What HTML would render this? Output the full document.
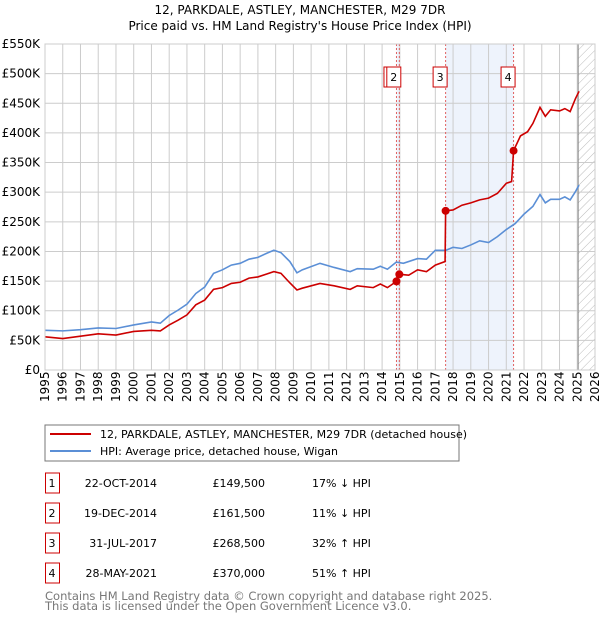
<!DOCTYPE html>
<html><head><meta charset="utf-8"><style>
body{margin:0;background:#fff;font-family:"DejaVu Sans","Liberation Sans",sans-serif;}
svg text{font-family:"DejaVu Sans","Liberation Sans",sans-serif;}
</style></head><body>
<svg id="chart" width="600" height="620" xmlns="http://www.w3.org/2000/svg">
<text x="300" y="14" text-anchor="middle" font-size="12">12, PARKDALE, ASTLEY, MANCHESTER, M29 7DR</text>
<text x="300" y="30" text-anchor="middle" font-size="12">Price paid vs. HM Land Registry's House Price Index (HPI)</text>
<defs><pattern id="hatch" width="6" height="6" patternUnits="userSpaceOnUse" patternTransform="rotate(45)"><line x1="0" y1="0" x2="0" y2="6" stroke="#bbb" stroke-width="1"/></pattern></defs>
<g id="plot"></g>
<rect x="45" y="425" width="414" height="36" fill="#fff" stroke="#777"/>
<line x1="50" y1="434" x2="91" y2="434" stroke="#cc0000" stroke-width="2"/>
<text x="100" y="438" font-size="11">12, PARKDALE, ASTLEY, MANCHESTER, M29 7DR (detached house)</text>
<line x1="50" y1="451" x2="91" y2="451" stroke="#5b8fd6" stroke-width="2"/>
<text x="100" y="455" font-size="11">HPI: Average price, detached house, Wigan</text>
<g id="table"></g>
<text x="45" y="600" font-size="11.5" fill="#777">Contains HM Land Registry data © Crown copyright and database right 2025.</text>
<text x="45" y="610" font-size="11.5" fill="#777">This data is licensed under the Open Government Licence v3.0.</text>
</svg>
<script>
const hpiYears=[1995,1996,1997,1998,1999,2000,2001,2001.5,2002,2002.5,2003,2003.5,2004,2004.5,2005,2005.5,2006,2006.5,2007,2007.5,2007.9,2008.3,2008.8,2009.2,2009.5,2010.5,2011.3,2012.2,2012.6,2013.5,2013.9,2014.3,2014.8,2015.2,2016,2016.5,2017,2017.6,2018,2018.5,2019,2019.5,2020,2020.5,2021,2021.5,2022,2022.5,2022.9,2023.2,2023.5,2024,2024.3,2024.6,2024.9,2025.1];
const hpiValues=[67,66,68,71,70,76,81,79,92,101,111,129,140,163,169,177,180,187,190,197,202,198,183,164,169,180,173,166,171,170,175,170,182,180,188,187,202,202,207,205,211,218,215,225,237,247,263,276,296,282,288,288,292,287,301,312];
const priceYears=[1995,1996,1997,1998,1999,2000,2001,2001.5,2002,2002.5,2003,2003.5,2004,2004.5,2005,2005.5,2006,2006.5,2007,2007.5,2007.9,2008.3,2008.8,2009.2,2009.5,2010.5,2011.3,2012.2,2012.6,2013.5,2013.9,2014.3,2014.81,2014.97,2015.5,2016,2016.5,2017,2017.55,2017.58,2018,2018.5,2019,2019.5,2020,2020.5,2021,2021.3,2021.41,2021.8,2022.2,2022.5,2022.9,2023.2,2023.5,2024,2024.3,2024.6,2024.9,2025.1];
const priceValues=[56,53,57,61,59,65,67,66,76,84,93,110,118,136,139,146,148,155,157,162,166,163,147,135,138,146,142,136,142,139,145,139,149.5,161.5,160,169,166,177,183,268.5,270,278,282,287,290,298,315,318,370,395,402,416,443,428,439,437,441,436,458,470];
const saleLabels=["1","2","3","4"];
const saleYears=[2014.81,2014.97,2017.58,2021.41];
const salePrices=[149.5,161.5,268.5,370];
const saleDates=["22-OCT-2014","19-DEC-2014","31-JUL-2017","28-MAY-2021"];
const salePriceText=["£149,500","£161,500","£268,500","£370,000"];
const saleHpiText=["17% ↓ HPI","11% ↓ HPI","32% ↑ HPI","51% ↑ HPI"];
const yTicks=[0,50,100,150,200,250,300,350,400,450,500,550];
const yTickLabels=["£0","£50K","£100K","£150K","£200K","£250K","£300K","£350K","£400K","£450K","£500K","£550K"];
const xTicks=[1995,1996,1997,1998,1999,2000,2001,2002,2003,2004,2005,2006,2007,2008,2009,2010,2011,2012,2013,2014,2015,2016,2017,2018,2019,2020,2021,2022,2023,2024,2025,2026];

const NS="http://www.w3.org/2000/svg";
const X0=45,X1=595,Y0=370,Y1=44;
const xS=y=>X0+(y-1995)/(2026-1995)*(X1-X0);
const yS=v=>Y0-v/550*(Y0-Y1);
const plot=document.getElementById('plot');
function mk(tag,attrs,parent){const e=document.createElementNS(NS,tag);for(const k in attrs)e.setAttribute(k,attrs[k]);(parent||plot).appendChild(e);return e;}

let r=mk('rect',{x:xS(saleYears[0]),y:Y1,width:xS(saleYears[1])-xS(saleYears[0]),height:Y0-Y1,fill:'#eef3fc'});


r=mk('rect',{x:xS(saleYears[2]),y:Y1,width:xS(saleYears[3])-xS(saleYears[2]),height:Y0-Y1,fill:'#eef3fc'});


r=mk('rect',{x:xS(2025.05),y:Y1,width:X1-xS(2025.05),height:Y0-Y1,fill:'url(#hatch)'});



yTicks.forEach((v,i)=>{
  const l=mk('line',{x1:X0,x2:X1,y1:yS(v),y2:yS(v),stroke:'#ccc','stroke-width':1});
  
  
  const t=mk('text',{x:X0-5,y:yS(v)+4,'text-anchor':'end','font-size':12});
  t.textContent=yTickLabels[i];
  
  
});
xTicks.forEach(yr=>{
  const l=mk('line',{x1:xS(yr),x2:xS(yr),y1:Y1,y2:Y0,stroke:'#ccc','stroke-width':1});
  
  
  const t=mk('text',{transform:`translate(${xS(yr)+4},${Y0+32}) rotate(-90)`,'font-size':12});
  t.textContent=String(yr);
  
  
});
const vl=mk('line',{x1:xS(2025.05),x2:xS(2025.05),y1:Y1,y2:Y0,stroke:'#888','stroke-width':1});



saleYears.forEach(yr=>{
  const l=mk('line',{x1:xS(yr),x2:xS(yr),y1:Y1,y2:Y0,stroke:'#e06060','stroke-width':1,'stroke-dasharray':'2,2'});
  
  
});

const hp=mk('polyline',{points:hpiYears.map((y,i)=>xS(y)+','+yS(hpiValues[i])).join(' '),fill:'none',stroke:'#5b8fd6','stroke-width':1.6});


const pp=mk('polyline',{points:priceYears.map((y,i)=>xS(y)+','+yS(priceValues[i])).join(' '),fill:'none',stroke:'#cc0000','stroke-width':1.6});



saleYears.forEach((yr,i)=>{
  const c=mk('circle',{cx:xS(yr),cy:yS(salePrices[i]),r:4,fill:'#cc0000'});
  
  
});
saleYears.forEach((yr,i)=>{
  const bx=xS(yr)-12.5;
  const b=mk('rect',{x:bx,y:67,width:14,height:20,fill:'#fff',stroke:'#cc0000','stroke-width':1});
  
  
  const t=mk('text',{x:bx+7,y:81,'text-anchor':'middle','font-size':11});
  t.textContent=saleLabels[i];
  
  
});
const border=mk('rect',{x:X0,y:Y1,width:X1-X0,height:Y0-Y1,fill:'none',stroke:'#ccc'});



const tb=document.getElementById('table');
saleLabels.forEach((lab,i)=>{
  const cy=483+i*30;
  const b=mk('rect',{x:45.5,y:cy-10,width:14,height:20,fill:'#fff',stroke:'#cc0000'},tb);
  
  
  const cells=[[52,'middle',lab],[157,'end',saleDates[i]],[265,'end',salePriceText[i]],[312,'start',saleHpiText[i]]];
  cells.forEach(([x,a,s],j)=>{
    const t=mk('text',{x:x,y:cy+4,'text-anchor':a,'font-size':11},tb);
    t.textContent=s;
    
    
  });
});
</script>
</body></html>
